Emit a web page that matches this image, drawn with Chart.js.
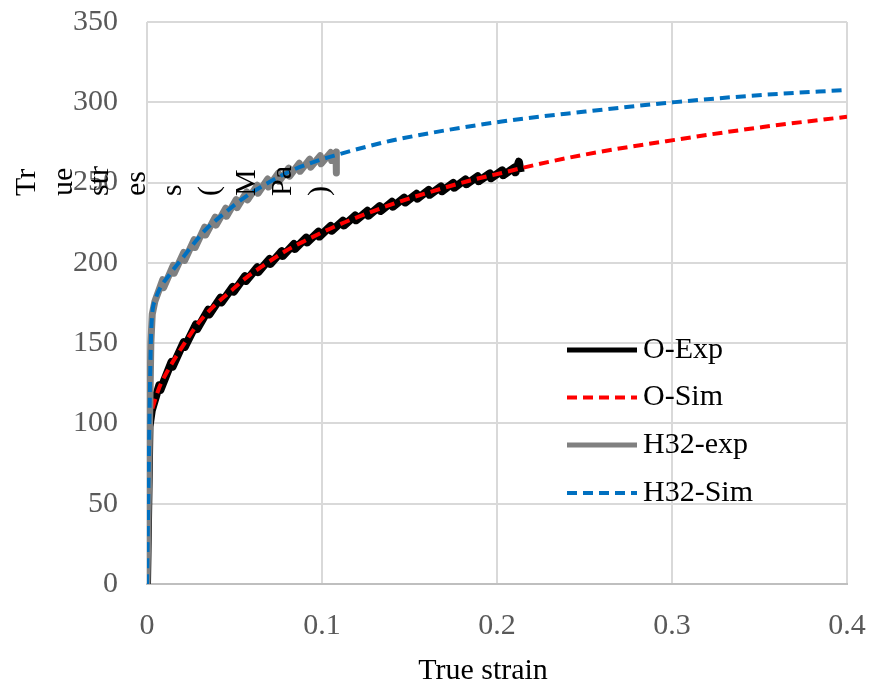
<!DOCTYPE html>
<html>
<head>
<meta charset="utf-8">
<script src="https://cdn.jsdelivr.net/npm/chart.js@4.4.1/dist/chart.umd.min.js"></script>
<style>
  html, body { margin: 0; padding: 0; background: #ffffff; }
  #wrap { width: 872px; height: 689px; position: relative; }
</style>
</head>
<body>
<div id="wrap"><canvas id="chart" width="872" height="689"></canvas></div>
<script>
// O temper, measured curve (serrated flow)
const oExpStrain = [0, 0.0014, 0.0027,
  0.007, 0.0076, 0.014, 0.0146, 0.021, 0.0216, 0.028, 0.0286, 0.035, 0.0356,
  0.042, 0.0426, 0.049, 0.0496, 0.056, 0.0566, 0.063, 0.0636, 0.070, 0.0706,
  0.077, 0.0776, 0.084, 0.0846, 0.091, 0.0916, 0.098, 0.0986, 0.105, 0.1056,
  0.112, 0.1126, 0.119, 0.1196, 0.126, 0.1266, 0.133, 0.1336, 0.140, 0.1406,
  0.147, 0.1476, 0.154, 0.1546, 0.161, 0.1616, 0.168, 0.1686, 0.175, 0.1756,
  0.182, 0.1826, 0.189, 0.1896, 0.196, 0.1966, 0.203, 0.2036, 0.210, 0.2106,
  0.2125, 0.2135];
const oExpStress = [0, 98, 108,
  123.7, 120.7, 138.3, 135.3, 150.6, 147.6, 161.7, 158.7, 170.8, 167.8,
  178.3, 175.3, 185, 182, 191.7, 188.7, 197.2, 194.2, 202.4, 199.4,
  207.3, 204.3, 211.7, 208.7, 215.7, 212.7, 219.4, 216.4, 223, 220,
  226.3, 223.3, 229.5, 226.5, 232.4, 229.4, 235.3, 232.3, 238, 235,
  240.6, 237.6, 243, 240, 245.4, 242.4, 247.6, 244.6, 249.8, 246.8,
  252, 249, 253.9, 250.9, 255.7, 252.7, 257.6, 254.6, 259.4, 256.4,
  263, 256.5];

// O temper, simulated curve
const oSimStrain = [0, 0.0014, 0.0027, 0.0067, 0.0124, 0.0181, 0.0239, 0.0296,
  0.0373, 0.0468, 0.0564, 0.066, 0.0794, 0.0898, 0.107, 0.1262, 0.1453,
  0.1644, 0.1836, 0.2027, 0.2218, 0.2505, 0.3016, 0.3519, 0.4];
const oSimStress = [0, 98, 108, 121.5, 133.9, 144.2, 154, 162.8,
  172.1, 181.4, 190.5, 198, 207.5, 213.5, 222.5, 231, 238.5,
  245, 251, 256, 261, 267.5, 276.6, 284.6, 291];

// H32 temper, measured curve (serrated flow)
const h32ExpStrain = [0, 0.0022, 0.003, 0.0045,
  0.009, 0.0095, 0.015, 0.0155, 0.021, 0.0215, 0.027, 0.0275, 0.033, 0.0335,
  0.039, 0.0395, 0.045, 0.0455, 0.051, 0.0515, 0.057, 0.0575, 0.063, 0.0635,
  0.069, 0.0695, 0.075, 0.0755, 0.081, 0.0815, 0.087, 0.0875, 0.093, 0.0935,
  0.099, 0.0995, 0.105, 0.1055, 0.108, 0.1082];
const h32ExpStress = [0, 150, 168, 176,
  189.5, 184.5, 198.5, 193.5, 206.5, 201.5, 214.5, 209.5, 222.3, 217.3,
  228.5, 223.5, 234, 229, 239.4, 234.4, 244.2, 239.2, 248.3, 243.3,
  252.2, 247.2, 255.8, 250.8, 259, 254, 262, 257, 264.6, 259.6,
  266.7, 261.7, 268.7, 263.7, 269, 256];

// H32 temper, simulated curve
const h32SimStrain = [0, 0.0022, 0.0029, 0.0048, 0.0076, 0.0124, 0.021, 0.0334,
  0.0449, 0.0564, 0.0679, 0.0832, 0.0985, 0.107, 0.126, 0.1434, 0.2027,
  0.2505, 0.3016, 0.3519, 0.4];
const h32SimStress = [0, 150, 167, 177, 184.5, 192, 204, 220.5,
  231.5, 241.3, 249, 257.8, 264, 266.8, 272.5, 277, 288,
  294.2, 300.1, 304.6, 307.7];

const xTicks = [0, 0.1, 0.2, 0.3, 0.4];
const yTicks = [0, 50, 100, 150, 200, 250, 300, 350];
const seriesNames = ['O-Exp', 'O-Sim', 'H32-exp', 'H32-Sim'];
const yTitleParts = ['Tr', 'ue', 'str', 'es', 's', '(', 'M', 'Pa', ')'];
const xTitle = 'True strain';

const SERIF = "'Liberation Serif', 'Times New Roman', 'DejaVu Serif', serif";
const styles = [
  { color: '#000000', width: 8, dash: [], legendWidth: 5 },
  { color: '#ff0000', width: 4, dash: [10, 6], legendWidth: 4 },
  { color: '#808080', width: 7, dash: [], legendWidth: 5 },
  { color: '#0070c0', width: 4, dash: [10, 6], legendWidth: 4 }
];

const pts = (xs, ys) => xs.map((x, i) => ({ x: x, y: ys[i] }));

function makeSet(i, xs, ys, smooth, order) {
  const s = styles[i];
  return {
    label: seriesNames[i],
    data: pts(xs, ys),
    borderColor: s.color,
    backgroundColor: s.color,
    borderWidth: s.width,
    borderDash: s.dash,
    borderCapStyle: 'butt',
    borderJoinStyle: 'round',
    pointRadius: 0,
    pointHoverRadius: 0,
    fill: false,
    cubicInterpolationMode: smooth ? 'monotone' : 'default',
    tension: 0,
    order: order
  };
}

// keep the plot box fixed: no extra room reserved for edge labels
function noEdgePadding(scale) {
  scale.paddingTop = 0;
  scale.paddingBottom = 0;
  scale.paddingLeft = 0;
  scale.paddingRight = 0;
}

// Axis titles: the vertical one is broken into rotated fragments
const axisTitlePlugin = {
  id: 'axisTitles',
  afterDraw(chart) {
    const ctx = chart.ctx;
    ctx.save();
    ctx.fillStyle = '#000000';
    ctx.font = '30px ' + SERIF;
    ctx.textAlign = 'left';
    ctx.textBaseline = 'alphabetic';
    yTitleParts.forEach((part, k) => {
      ctx.save();
      ctx.translate(35 + 36.6 * k, 196);
      ctx.rotate(-Math.PI / 2);
      ctx.fillText(part, 0, 0);
      ctx.restore();
    });
    ctx.textAlign = 'center';
    ctx.textBaseline = 'middle';
    ctx.fillText(xTitle, 483, 671);
    ctx.restore();
  }
};

// Legend placed inside the plot area
const legendPlugin = {
  id: 'innerLegend',
  afterDatasetsDraw(chart) {
    const ctx = chart.ctx;
    const rows = [350, 397.5, 445, 493];
    ctx.save();
    seriesNames.forEach((name, i) => {
      const s = styles[i];
      const y = rows[i];
      ctx.beginPath();
      ctx.strokeStyle = s.color;
      ctx.lineWidth = s.legendWidth;
      ctx.setLineDash(s.dash);
      ctx.lineCap = 'butt';
      ctx.moveTo(567, y);
      ctx.lineTo(637, y);
      ctx.stroke();
      ctx.setLineDash([]);
      ctx.fillStyle = '#000000';
      ctx.font = '30px ' + SERIF;
      ctx.textAlign = 'left';
      ctx.textBaseline = 'middle';
      ctx.fillText(name, 643, y);
    });
    ctx.restore();
  }
};

new Chart(document.getElementById('chart'), {
  type: 'line',
  data: {
    datasets: [
      makeSet(0, oExpStrain, oExpStress, false, 4),
      makeSet(1, oSimStrain, oSimStress, true, 3),
      makeSet(2, h32ExpStrain, h32ExpStress, false, 2),
      makeSet(3, h32SimStrain, h32SimStress, true, 1)
    ]
  },
  options: {
    responsive: false,
    animation: false,
    devicePixelRatio: 1,
    layout: { padding: { top: 22, right: 25, left: 0, bottom: 0 } },
    plugins: {
      legend: { display: false },
      tooltip: { enabled: false },
      title: { display: false }
    },
    scales: {
      x: {
        type: 'linear',
        min: 0,
        max: 0.4,
        afterBuildTicks(scale) { scale.ticks = xTicks.map(v => ({ value: v })); },
        afterFit(scale) { scale.height = 105; noEdgePadding(scale); },
        ticks: {
          color: '#595959',
          font: { family: SERIF, size: 30, lineHeight: 1.2 },
          padding: 24,
          maxRotation: 0,
          callback: v => String(Number(v.toFixed(1)))
        },
        grid: { color: '#d9d9d9', lineWidth: 2, drawTicks: false },
        border: { display: true, color: '#bfbfbf', width: 2 },
        title: { display: false }
      },
      y: {
        type: 'linear',
        min: 0,
        max: 350,
        afterBuildTicks(scale) { scale.ticks = yTicks.map(v => ({ value: v })); },
        afterFit(scale) { scale.width = 147; noEdgePadding(scale); },
        ticks: {
          color: '#595959',
          font: { family: SERIF, size: 30, lineHeight: 1.2 },
          padding: 29
        },
        grid: { color: '#d9d9d9', lineWidth: 2, drawTicks: false },
        border: { display: false }
      }
    }
  },
  plugins: [legendPlugin, axisTitlePlugin]
});
</script>
</body>
</html>
